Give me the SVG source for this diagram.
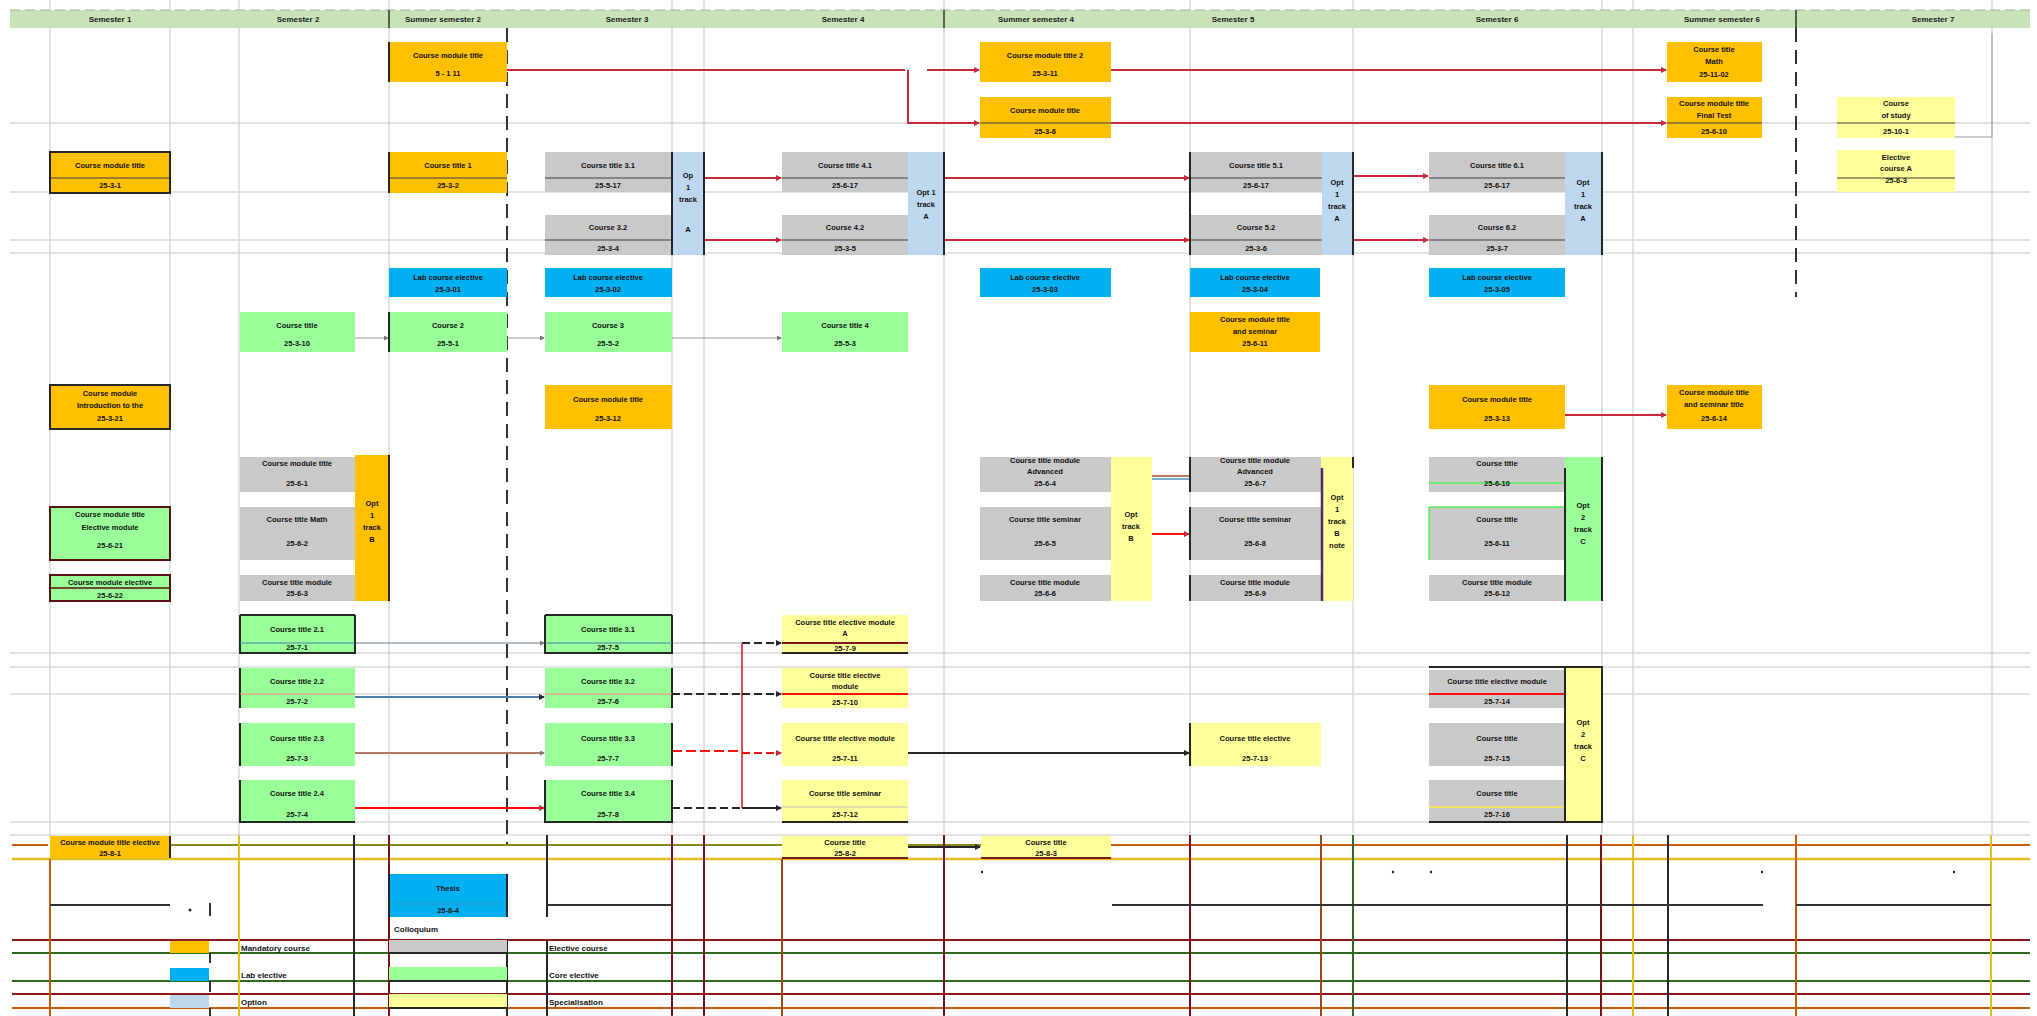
<svg xmlns="http://www.w3.org/2000/svg" width="2037" height="1016" viewBox="0 0 2037 1016">
<style>
.grid{stroke:#d9d9d9;stroke-width:1.5;fill:none}
.hdr{fill:#c9e2b8}
.ht{font:bold 8px "Liberation Sans",Arial,sans-serif;text-anchor:middle;fill:#1a1a1a}
.t{font:bold 7.5px "Liberation Sans",Arial,sans-serif;text-anchor:middle;fill:#111}
.tl{font:bold 8px "Liberation Sans",Arial,sans-serif;fill:#111}
.or{fill:#ffc000}
.bl{fill:#00b0f0}
.lb{fill:#bdd7ee}
.gr{fill:#c9c9c9}
.gn{fill:#99ff99}
.ye{fill:#ffff99}
.bd{stroke:#262626;stroke-width:2;fill:none}
.dv{stroke:#404040;stroke-width:1.2}
.red{stroke:#c8283c;stroke-width:2;fill:none}
.gc{stroke:#9a9a9a;stroke-width:1;fill:none}
.blk{stroke:#262626;stroke-width:2;fill:none}
</style>
<defs>
<marker id="ar" markerUnits="userSpaceOnUse" markerWidth="6" markerHeight="6" refX="5" refY="3" orient="auto"><path d="M0,0 L6,3 L0,6 z" fill="#c8283c"/></marker>
<marker id="ag" markerUnits="userSpaceOnUse" markerWidth="5" markerHeight="5" refX="4" refY="2.5" orient="auto"><path d="M0,0 L5,2.5 L0,5 z" fill="#777"/></marker>
<marker id="ak" markerUnits="userSpaceOnUse" markerWidth="6" markerHeight="6" refX="5" refY="3" orient="auto"><path d="M0,0 L6,3 L0,6 z" fill="#262626"/></marker>
</defs>
<rect width="2037" height="1016" fill="#fff"/>

<g id="grid">
<path class="grid" d="M50 0V835 M170 0V835 M239 0V835 M389 0V835 M672 0V835 M704 0V835 M944 0V835 M1190 0V835 M1353 0V835 M1602 0V835 M1633 0V835 M1992 0V835"/>
<path class="grid" d="M10 123H2030 M10 192H2030 M10 240H2030 M10 253H2030 M10 653H2030 M10 667H2030 M10 694H2030 M10 822H2030 M10 835H2030"/>
<path stroke="#333" stroke-width="2" stroke-dasharray="14,8" d="M507 28V845"/>
<path stroke="#333" stroke-width="2" stroke-dasharray="14,8" d="M1796 28V297"/>
<path class="gc" d="M1992 33V137H1955"/>
</g>

<g id="header">
<rect class="hdr" x="10" y="10" width="2020" height="18"/>
<path stroke="#9fb894" stroke-width="1" stroke-dasharray="10,5" d="M10 10H2030"/>
<path stroke="#333" stroke-width="1.5" d="M389 10V28 M944 10V28 M1796 10V28"/>
<text class="ht" x="110" y="22">Semester 1</text>
<text class="ht" x="298" y="22">Semester 2</text>
<text class="ht" x="443" y="22">Summer semester 2</text>
<text class="ht" x="627" y="22">Semester 3</text>
<text class="ht" x="843" y="22">Semester 4</text>
<text class="ht" x="1036" y="22">Summer semester 4</text>
<text class="ht" x="1233" y="22">Semester 5</text>
<text class="ht" x="1497" y="22">Semester 6</text>
<text class="ht" x="1722" y="22">Summer semester 6</text>
<text class="ht" x="1933" y="22">Semester 7</text>
</g>

<g id="bottomlines">
<path stroke="#c55a11" stroke-width="2" d="M12 845H48"/>
<path stroke="#8a8a10" stroke-width="2" d="M170 845H1111"/>
<path stroke="#c55a11" stroke-width="2" d="M1111 845H2030"/>
<path stroke="#e0c020" stroke-width="2.5" d="M12 859H2030"/>
<path stroke="#8b1a1a" stroke-width="2" d="M12 940H2030 M12 994H2030"/>
<path stroke="#2e6b1e" stroke-width="2" d="M12 953H2030 M12 981H2030"/>
<path stroke="#c55a11" stroke-width="2" d="M12 1008H2030"/>
<path stroke="#c55a11" stroke-width="2" d="M50 859V1016 M1796 835V1016"/>
<path stroke="#e0c020" stroke-width="2" d="M239 835V1016 M1633 835V1016 M1991 835V1016"/>
<path stroke="#262626" stroke-width="2" d="M354 835V1016 M547 835V917 M547 940V1016 M1567 835V1016 M1668 835V1016 M507 940V1016"/>
<path stroke="#7a1010" stroke-width="2" d="M389 835V1016 M672 835V1016 M704 835V1016 M944 835V1016 M1190 835V1016 M1601 835V1016"/>
<path stroke="#a0461a" stroke-width="2" d="M782 859V1016 M1321 835V1016"/>
<path stroke="#2e6b1e" stroke-width="2" d="M1353 835V1016"/>
<path stroke="#333" stroke-width="2" d="M50 905H170 M547 905H672 M1112 905H1763 M1796 905H1991 M210 903V916 M210 953V963 M210 981V992 M210 1008V1016"/>
<g fill="#222"><circle cx="190" cy="910" r="1.5"/><circle cx="982" cy="872" r="1.2"/><circle cx="1393" cy="872" r="1.2"/><circle cx="1431" cy="872" r="1.2"/><circle cx="1762" cy="872" r="1.2"/><circle cx="1954" cy="872" r="1.2"/></g>
</g>

<g id="connectors">
<path class="red" d="M507 70H905" />
<path class="red" d="M927 70H979" marker-end="url(#ar)"/>
<path class="red" d="M908 70V123H979" marker-end="url(#ar)"/>
<path class="red" d="M1111 70H1666" marker-end="url(#ar)"/>
<path class="red" d="M1111 123H1666" marker-end="url(#ar)"/>
<path class="red" d="M704 178H781" marker-end="url(#ar)"/>
<path class="red" d="M704 240H781" marker-end="url(#ar)"/>
<path class="red" d="M944 178H1189" marker-end="url(#ar)"/>
<path class="red" d="M944 240H1189" marker-end="url(#ar)"/>
<path class="red" d="M1353 176H1428" marker-end="url(#ar)"/>
<path class="red" d="M1353 240H1428" marker-end="url(#ar)"/>
<path class="gc" d="M355 338H388" marker-end="url(#ag)"/>
<path class="gc" d="M507 338H544" marker-end="url(#ag)"/>
<path class="gc" d="M672 338H781" marker-end="url(#ag)"/>
<path class="red" d="M1565 415H1666" marker-end="url(#ar)"/>
<path stroke="#a0522d" stroke-width="1.5" d="M1152 476H1189"/>
<path stroke="#4a90c0" stroke-width="1.5" d="M1152 479H1189"/>
<path stroke="#ff1010" stroke-width="2" d="M1152 534H1189" marker-end="url(#ar)"/>
<path stroke="#9aa8b0" stroke-width="1.5" d="M355 643H544" marker-end="url(#ag)"/>
<path stroke="#4a7fa8" stroke-width="2" d="M355 697H544" marker-end="url(#ak)"/>
<path stroke="#b07a60" stroke-width="2" d="M355 753H544" marker-end="url(#ag)"/>
<path stroke="#ff1010" stroke-width="2" d="M355 808H544" marker-end="url(#ar)"/>
<path stroke="#e05050" stroke-width="2" d="M742 643V808"/>
<path stroke="#aaa" stroke-width="1" d="M672 643H742"/>
<path class="blk" stroke-dasharray="8,4" d="M742 643H781" marker-end="url(#ak)"/>
<path class="blk" stroke-dasharray="8,4" d="M672 694H742" />
<path class="blk" stroke-dasharray="8,4" d="M742 694H781" marker-end="url(#ak)"/>
<path stroke="#ff1010" stroke-width="2" stroke-dasharray="10,4" d="M672 751H742"/>
<path stroke="#ff1010" stroke-width="2" stroke-dasharray="8,4" d="M742 753H781" marker-end="url(#ar)"/>
<path class="blk" stroke-dasharray="8,4" d="M672 808H742"/>
<path class="blk" d="M742 808H781" marker-end="url(#ak)"/>
<path class="blk" d="M908 753H1189" marker-end="url(#ak)"/>
<path class="blk" d="M908 847H980" marker-end="url(#ak)"/>
</g>

<g id="n_s2s_a"><rect class="or" x="389" y="42" width="118" height="40"/><path class="bd" d="M389 42V82"/><text class="t" x="448" y="58">Course module title</text><text class="t" x="448" y="76">5 - 1 11</text></g>
<g id="n_s4s_a"><rect class="or" x="980" y="42" width="131" height="40"/><text class="t" x="1045" y="58">Course module title 2</text><text class="t" x="1045" y="76">25-3-11</text></g>
<g id="n_s4s_b"><rect class="or" x="980" y="97" width="131" height="41"/><line class="dv" x1="980" y1="123" x2="1111" y2="123"/><text class="t" x="1045" y="113">Course module title</text><text class="t" x="1045" y="134">25-3-6</text></g>
<g id="n_s6s_a"><rect class="or" x="1667" y="42" width="95" height="40"/><text class="t" x="1714" y="52">Course title</text><text class="t" x="1714" y="64">Math</text><text class="t" x="1714" y="77">25-11-02</text></g>
<g id="n_s6s_b"><rect class="or" x="1667" y="97" width="95" height="41"/><line class="dv" x1="1667" y1="123" x2="1762" y2="123"/><text class="t" x="1714" y="106">Course module title</text><text class="t" x="1714" y="118">Final Test</text><text class="t" x="1714" y="134">25-6-10</text></g>
<g id="n_s7_a"><rect class="ye" x="1837" y="97" width="118" height="41"/><line class="dv" x1="1837" y1="123" x2="1955" y2="123"/><text class="t" x="1896" y="106">Course</text><text class="t" x="1896" y="118">of study</text><text class="t" x="1896" y="134">25-10-1</text></g>
<g id="n_s7_b"><rect class="ye" x="1837" y="150" width="118" height="42"/><line class="dv" x1="1837" y1="178" x2="1955" y2="178"/><text class="t" x="1896" y="160">Elective</text><text class="t" x="1896" y="171">course A</text><text class="t" x="1896" y="183">25-6-3</text></g>

<g id="n_s1_a"><rect class="or" x="50" y="152" width="120" height="41"/><line class="dv" x1="50" y1="178" x2="170" y2="178"/><rect class="bd" x="50" y="152" width="120" height="41"/><text class="t" x="110" y="168">Course module title</text><text class="t" x="110" y="188">25-3-1</text></g>
<g id="n_s2s_b"><rect class="or" x="389" y="152" width="118" height="41"/><line class="dv" x1="389" y1="178" x2="507" y2="178"/><path class="bd" d="M389 152V193"/><text class="t" x="448" y="168">Course title 1</text><text class="t" x="448" y="188">25-3-2</text></g>

<g id="g_s3"><rect class="gr" x="545" y="152" width="127" height="40"/><rect class="gr" x="545" y="215" width="127" height="40"/><line class="dv" x1="545" y1="178" x2="672" y2="178"/><line class="dv" x1="545" y1="240" x2="672" y2="240"/><rect class="lb" x="672" y="152" width="32" height="103"/><path class="bd" d="M672 152V255 M704 152V255"/><text class="t" x="608" y="168">Course title 3.1</text><text class="t" x="608" y="188">25-5-17</text><text class="t" x="608" y="230">Course 3.2</text><text class="t" x="608" y="251">25-3-4</text><text class="t" x="688" y="178">Op</text><text class="t" x="688" y="190">1</text><text class="t" x="688" y="202">track</text><text class="t" x="688" y="232">A</text></g>
<g id="g_s4"><rect class="gr" x="782" y="152" width="126" height="40"/><rect class="gr" x="782" y="215" width="126" height="40"/><line class="dv" x1="782" y1="178" x2="908" y2="178"/><line class="dv" x1="782" y1="240" x2="908" y2="240"/><rect class="lb" x="908" y="152" width="36" height="103"/><path class="bd" d="M944 152V255"/><text class="t" x="845" y="168">Course title 4.1</text><text class="t" x="845" y="188">25-6-17</text><text class="t" x="845" y="230">Course 4.2</text><text class="t" x="845" y="251">25-3-5</text><text class="t" x="926" y="195">Opt 1</text><text class="t" x="926" y="207">track</text><text class="t" x="926" y="219">A</text></g>
<g id="g_s5"><rect class="gr" x="1190" y="152" width="132" height="40"/><rect class="gr" x="1190" y="215" width="132" height="40"/><line class="dv" x1="1190" y1="178" x2="1322" y2="178"/><line class="dv" x1="1190" y1="240" x2="1322" y2="240"/><rect class="lb" x="1322" y="152" width="31" height="103"/><path class="bd" d="M1190 152V255 M1353 152V255"/><text class="t" x="1256" y="168">Course title 5.1</text><text class="t" x="1256" y="188">25-6-17</text><text class="t" x="1256" y="230">Course 5.2</text><text class="t" x="1256" y="251">25-3-6</text><text class="t" x="1337" y="185">Opt</text><text class="t" x="1337" y="197">1</text><text class="t" x="1337" y="209">track</text><text class="t" x="1337" y="221">A</text></g>
<g id="g_s6"><rect class="gr" x="1429" y="152" width="136" height="40"/><rect class="gr" x="1429" y="215" width="136" height="40"/><line class="dv" x1="1429" y1="178" x2="1565" y2="178"/><line class="dv" x1="1429" y1="240" x2="1565" y2="240"/><rect class="lb" x="1565" y="152" width="37" height="103"/><path class="bd" d="M1602 152V255"/><text class="t" x="1497" y="168">Course title 6.1</text><text class="t" x="1497" y="188">25-6-17</text><text class="t" x="1497" y="230">Course 6.2</text><text class="t" x="1497" y="251">25-3-7</text><text class="t" x="1583" y="185">Opt</text><text class="t" x="1583" y="197">1</text><text class="t" x="1583" y="209">track</text><text class="t" x="1583" y="221">A</text></g>

<g id="n_b1"><rect class="bl" x="389" y="268" width="118" height="29"/><text class="t" x="448" y="280">Lab course elective</text><text class="t" x="448" y="292">25-3-01</text></g>
<g id="n_b2"><rect class="bl" x="545" y="268" width="127" height="29"/><text class="t" x="608" y="280">Lab course elective</text><text class="t" x="608" y="292">25-3-02</text></g>
<g id="n_b3"><rect class="bl" x="980" y="268" width="131" height="29"/><text class="t" x="1045" y="280">Lab course elective</text><text class="t" x="1045" y="292">25-3-03</text></g>
<g id="n_b4"><rect class="bl" x="1190" y="268" width="130" height="29"/><text class="t" x="1255" y="280">Lab course elective</text><text class="t" x="1255" y="292">25-3-04</text></g>
<g id="n_b5"><rect class="bl" x="1429" y="268" width="136" height="29"/><text class="t" x="1497" y="280">Lab course elective</text><text class="t" x="1497" y="292">25-3-05</text></g>

<g id="n_g1"><rect class="gn" x="240" y="312" width="115" height="40"/><text class="t" x="297" y="328">Course title</text><text class="t" x="297" y="346">25-3-10</text></g>
<g id="n_g2"><rect class="gn" x="389" y="312" width="118" height="40"/><path class="bd" d="M389 312V352"/><text class="t" x="448" y="328">Course 2</text><text class="t" x="448" y="346">25-5-1</text></g>
<g id="n_g3"><rect class="gn" x="545" y="312" width="127" height="40"/><text class="t" x="608" y="328">Course 3</text><text class="t" x="608" y="346">25-5-2</text></g>
<g id="n_g4"><rect class="gn" x="782" y="312" width="126" height="40"/><text class="t" x="845" y="328">Course title 4</text><text class="t" x="845" y="346">25-5-3</text></g>
<g id="n_o5"><rect class="or" x="1190" y="312" width="130" height="40"/><text class="t" x="1255" y="322">Course module title</text><text class="t" x="1255" y="334">and seminar</text><text class="t" x="1255" y="346">25-6-11</text></g>

<g id="n_o1"><rect class="or" x="50" y="385" width="120" height="44"/><rect class="bd" x="50" y="385" width="120" height="44"/><text class="t" x="110" y="396">Course module</text><text class="t" x="110" y="408">Introduction to the</text><text class="t" x="110" y="421">25-3-21</text></g>
<g id="n_o2"><rect class="or" x="545" y="385" width="127" height="44"/><text class="t" x="608" y="402">Course module title</text><text class="t" x="608" y="421">25-3-12</text></g>
<g id="n_o3"><rect class="or" x="1429" y="385" width="136" height="44"/><text class="t" x="1497" y="402">Course module title</text><text class="t" x="1497" y="421">25-3-13</text></g>
<g id="n_o4"><rect class="or" x="1667" y="385" width="95" height="44"/><text class="t" x="1714" y="395">Course module title</text><text class="t" x="1714" y="407">and seminar title</text><text class="t" x="1714" y="421">25-6-14</text></g>

<g id="g_r6_s2"><rect class="gr" x="240" y="457" width="115" height="35"/><rect class="gr" x="240" y="507" width="115" height="53"/><rect class="gr" x="240" y="575" width="115" height="26"/><rect class="or" x="355" y="455" width="34" height="146"/><path class="bd" d="M389 455V601"/><text class="t" x="297" y="466">Course module title</text><text class="t" x="297" y="486">25-6-1</text><text class="t" x="297" y="522">Course title Math</text><text class="t" x="297" y="546">25-6-2</text><text class="t" x="297" y="585">Course title module</text><text class="t" x="297" y="596">25-6-3</text><text class="t" x="372" y="506">Opt</text><text class="t" x="372" y="518">1</text><text class="t" x="372" y="530">track</text><text class="t" x="372" y="542">B</text></g>
<g id="n_gs1a"><rect class="gn" x="50" y="507" width="120" height="53"/><rect stroke="#5a1010" stroke-width="2" fill="none" x="50" y="507" width="120" height="53"/><text class="t" x="110" y="517">Course module title</text><text class="t" x="110" y="530">Elective module</text><text class="t" x="110" y="548">25-6-21</text></g>
<g id="n_gs1b"><rect class="gn" x="50" y="575" width="120" height="26"/><rect stroke="#5a1010" stroke-width="2" fill="none" x="50" y="575" width="120" height="26"/><line stroke="#5a1010" stroke-width="1.5" x1="50" y1="588" x2="170" y2="588"/><text class="t" x="110" y="585">Course module elective</text><text class="t" x="110" y="598">25-6-22</text></g>

<g id="g_r6_s4s"><rect class="gr" x="980" y="457" width="131" height="35"/><rect class="gr" x="980" y="507" width="131" height="53"/><rect class="gr" x="980" y="575" width="131" height="26"/><rect class="ye" x="1111" y="457" width="41" height="144"/><text class="t" x="1045" y="463">Course title module</text><text class="t" x="1045" y="474">Advanced</text><text class="t" x="1045" y="486">25-6-4</text><text class="t" x="1045" y="522">Course title seminar</text><text class="t" x="1045" y="546">25-6-5</text><text class="t" x="1045" y="585">Course title module</text><text class="t" x="1045" y="596">25-6-6</text><text class="t" x="1131" y="517">Opt</text><text class="t" x="1131" y="529">track</text><text class="t" x="1131" y="541">B</text></g>
<g id="g_r6_s5"><rect class="gr" x="1190" y="457" width="131" height="35"/><rect class="gr" x="1190" y="507" width="131" height="53"/><rect class="gr" x="1190" y="575" width="131" height="26"/><rect class="ye" x="1321" y="457" width="32" height="144"/><path class="bd" d="M1190 457V492 M1190 507V560 M1190 575V601 M1353 457V468"/><path stroke="#4b2a6e" stroke-width="2.5" d="M1322 468V601"/><text class="t" x="1255" y="463">Course title module</text><text class="t" x="1255" y="474">Advanced</text><text class="t" x="1255" y="486">25-6-7</text><text class="t" x="1255" y="522">Course title seminar</text><text class="t" x="1255" y="546">25-6-8</text><text class="t" x="1255" y="585">Course title module</text><text class="t" x="1255" y="596">25-6-9</text><text class="t" x="1337" y="500">Opt</text><text class="t" x="1337" y="512">1</text><text class="t" x="1337" y="524">track</text><text class="t" x="1337" y="536">B</text><text class="t" x="1337" y="548">note</text></g>
<g id="g_r6_s6"><rect class="gr" x="1429" y="457" width="136" height="35"/><rect class="gr" x="1429" y="507" width="136" height="53"/><rect class="gr" x="1429" y="575" width="136" height="26"/><rect class="gn" x="1565" y="457" width="37" height="144"/><path stroke="#55ee55" stroke-width="1.5" d="M1429 483H1565 M1429 507H1565 M1429 507V560"/><path class="bd" d="M1565 468V601 M1602 457V601"/><text class="t" x="1497" y="466">Course title</text><text class="t" x="1497" y="486">25-6-10</text><text class="t" x="1497" y="522">Course title</text><text class="t" x="1497" y="546">25-6-11</text><text class="t" x="1497" y="585">Course title module</text><text class="t" x="1497" y="596">25-6-12</text><text class="t" x="1583" y="508">Opt</text><text class="t" x="1583" y="520">2</text><text class="t" x="1583" y="532">track</text><text class="t" x="1583" y="544">C</text></g>

<g id="r7_s2">
<rect class="gn" x="240" y="615" width="115" height="38"/><rect class="gn" x="240" y="668" width="115" height="40"/><rect class="gn" x="240" y="723" width="115" height="43"/><rect class="gn" x="240" y="780" width="115" height="42"/>
<path class="bd" d="M240 615V653H355V615 M240 615H355 M240 668V708 M240 723V766 M240 780V822H355"/>
<line stroke="#4a7fa8" stroke-width="1" x1="240" y1="643" x2="355" y2="643"/><line stroke="#ff8080" stroke-width="1" x1="240" y1="694" x2="355" y2="694"/>
<text class="t" x="297" y="632">Course title 2.1</text><text class="t" x="297" y="650">25-7-1</text>
<text class="t" x="297" y="684">Course title 2.2</text><text class="t" x="297" y="704">25-7-2</text>
<text class="t" x="297" y="741">Course title 2.3</text><text class="t" x="297" y="761">25-7-3</text>
<text class="t" x="297" y="796">Course title 2.4</text><text class="t" x="297" y="817">25-7-4</text>
</g>
<g id="r7_s3">
<rect class="gn" x="545" y="615" width="127" height="38"/><rect class="gn" x="545" y="668" width="127" height="40"/><rect class="gn" x="545" y="723" width="127" height="43"/><rect class="gn" x="545" y="780" width="127" height="42"/>
<path class="bd" d="M545 615V653H672V615 M545 615H672 M672 668V708 M672 723V766 M545 780V822H672V780"/>
<line stroke="#4a7fa8" stroke-width="1" x1="545" y1="643" x2="672" y2="643"/><line stroke="#ff8080" stroke-width="1" x1="545" y1="694" x2="672" y2="694"/>
<text class="t" x="608" y="632">Course title 3.1</text><text class="t" x="608" y="650">25-7-5</text>
<text class="t" x="608" y="684">Course title 3.2</text><text class="t" x="608" y="704">25-7-6</text>
<text class="t" x="608" y="741">Course title 3.3</text><text class="t" x="608" y="761">25-7-7</text>
<text class="t" x="608" y="796">Course title 3.4</text><text class="t" x="608" y="817">25-7-8</text>
</g>
<g id="r7_s4">
<rect class="ye" x="782" y="615" width="126" height="38"/><rect class="ye" x="782" y="668" width="126" height="40"/><rect class="ye" x="782" y="723" width="126" height="43"/><rect class="ye" x="782" y="780" width="126" height="42"/>
<path class="bd" d="M782 653H908 M782 822H908"/>
<line stroke="#7a1a1a" stroke-width="2" x1="782" y1="643" x2="908" y2="643"/><line stroke="#ff1010" stroke-width="2" x1="782" y1="694" x2="908" y2="694"/><line stroke="#c0c0c0" stroke-width="1" x1="782" y1="807" x2="908" y2="807"/>
<text class="t" x="845" y="625">Course title elective module</text><text class="t" x="845" y="636">A</text><text class="t" x="845" y="651">25-7-9</text>
<text class="t" x="845" y="678">Course title elective</text><text class="t" x="845" y="689">module</text><text class="t" x="845" y="705">25-7-10</text>
<text class="t" x="845" y="741">Course title elective module</text><text class="t" x="845" y="761">25-7-11</text>
<text class="t" x="845" y="796">Course title seminar</text><text class="t" x="845" y="817">25-7-12</text>
</g>
<g id="n_y5"><rect class="ye" x="1190" y="723" width="131" height="43"/><path class="bd" d="M1190 723V766"/><text class="t" x="1255" y="741">Course title elective</text><text class="t" x="1255" y="761">25-7-13</text></g>
<g id="r7_s6">
<rect class="gr" x="1429" y="670" width="136" height="38"/><rect class="gr" x="1429" y="723" width="136" height="43"/><rect class="gr" x="1429" y="780" width="136" height="42"/><rect class="ye" x="1565" y="667" width="37" height="155"/>
<line stroke="#ff1010" stroke-width="2" x1="1429" y1="694" x2="1565" y2="694"/><line stroke="#ffeb3b" stroke-width="1.5" x1="1429" y1="807" x2="1565" y2="807"/>
<path class="bd" d="M1429 667H1602V822H1429 M1565 667V822"/>
<text class="t" x="1497" y="684">Course title elective module</text><text class="t" x="1497" y="704">25-7-14</text>
<text class="t" x="1497" y="741">Course title</text><text class="t" x="1497" y="761">25-7-15</text>
<text class="t" x="1497" y="796">Course title</text><text class="t" x="1497" y="817">25-7-16</text>
<text class="t" x="1583" y="725">Opt</text><text class="t" x="1583" y="737">2</text><text class="t" x="1583" y="749">track</text><text class="t" x="1583" y="761">C</text>
</g>

<g id="n_bot1"><rect class="or" x="50" y="836" width="120" height="22"/><path class="bd" d="M170 836V858"/><text class="t" x="110" y="845">Course module title elective</text><text class="t" x="110" y="856">25-8-1</text></g>
<g id="n_bot2"><rect class="ye" x="782" y="836" width="126" height="22"/><path stroke="#7a1a1a" stroke-width="2" d="M782 858H908"/><text class="t" x="845" y="845">Course title</text><text class="t" x="845" y="856">25-8-2</text></g>
<g id="n_bot3"><rect class="ye" x="981" y="836" width="130" height="22"/><path stroke="#7a1a1a" stroke-width="2" d="M981 858H1111"/><text class="t" x="1046" y="845">Course title</text><text class="t" x="1046" y="856">25-8-3</text></g>
<g id="n_bot4"><rect class="bl" x="389" y="874" width="118" height="43"/><line stroke="#3a8fd0" stroke-width="1" x1="389" y1="904" x2="507" y2="904"/><path class="bd" d="M389 874V917 M507 874V917"/><text class="t" x="448" y="891">Thesis</text><text class="t" x="448" y="913">25-8-4</text></g>
<text class="tl" x="394" y="932">Colloquium</text>

<g id="legend">
<rect class="or" x="170" y="941" width="39" height="12"/>
<rect class="bl" x="170" y="968" width="39" height="13"/>
<rect class="lb" x="170" y="995" width="39" height="13"/>
<text class="tl" x="241" y="951">Mandatory course</text>
<text class="tl" x="241" y="978">Lab elective</text>
<text class="tl" x="241" y="1005">Option</text>
<rect class="gr" x="389" y="940" width="118" height="13"/>
<rect class="gn" x="389" y="967" width="118" height="14"/>
<rect class="ye" x="389" y="994" width="118" height="14"/>
<path class="bd" d="M389 953H507 M389 981H507 M389 1008H507"/>
<text class="tl" x="549" y="951">Elective course</text>
<text class="tl" x="549" y="978">Core elective</text>
<text class="tl" x="549" y="1005">Specialisation</text>
</g>
</svg>
